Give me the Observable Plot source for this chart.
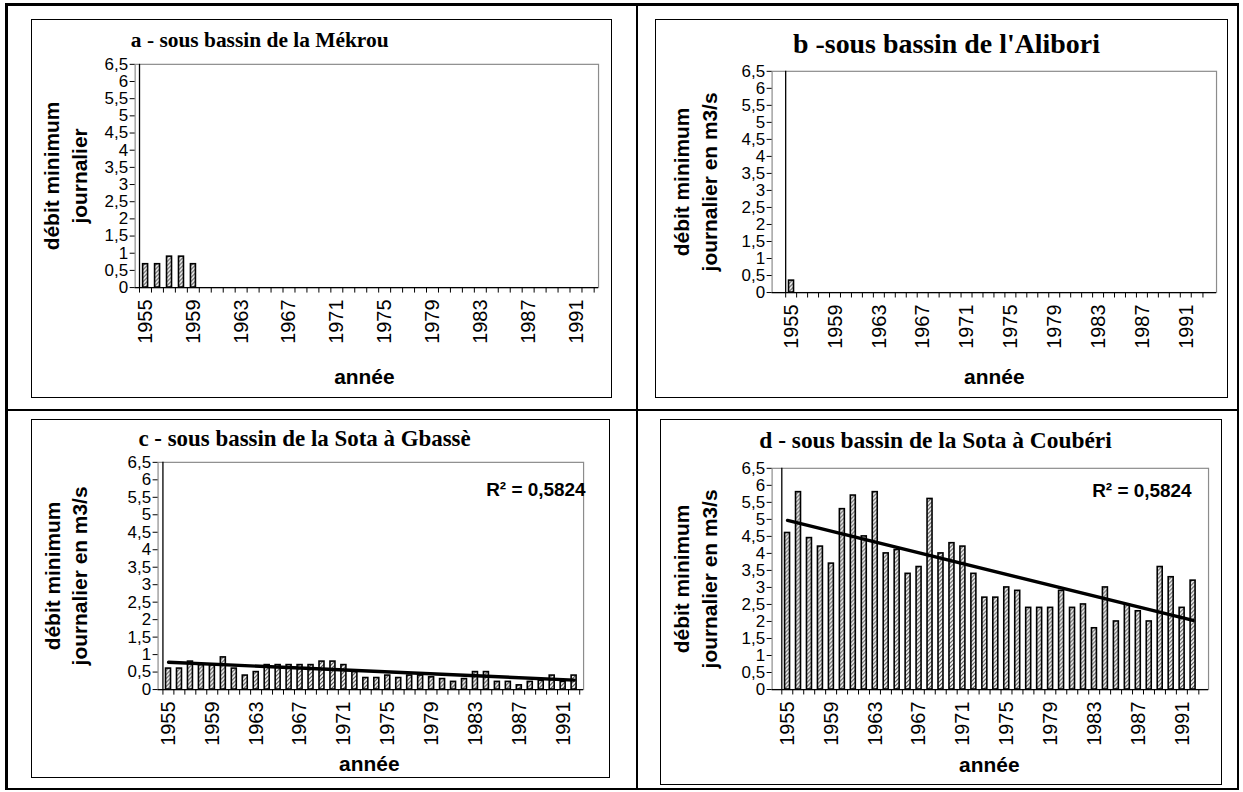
<!DOCTYPE html>
<html>
<head>
<meta charset="utf-8">
<script src="https://cdn.jsdelivr.net/npm/d3@7"></script>
<script src="https://cdn.jsdelivr.net/npm/@observablehq/plot@0.6"></script>
<style>
  html, body { margin: 0; padding: 0; background: #fff; }
  #page { position: relative; width: 1243px; height: 792px; overflow: hidden; background: #fff; }
  .line { position: absolute; background: #000; }
  .panel { position: absolute; box-sizing: border-box; border: 1px solid #000; background: #fff; }
  .panel svg { position: absolute; left: -1px; top: -1px; overflow: visible; }
</style>
</head>
<body>
<div id="page">
  <svg width="0" height="0" style="position:absolute">
    <defs>
      <pattern id="hatch" patternUnits="userSpaceOnUse" width="4" height="4">
        <rect width="4" height="4" fill="#fff"></rect>
        <path d="M0,4 L4,0 M-1,1 L1,-1 M3,5 L5,3" stroke="#4a4a4a" stroke-width="1.2"></path>
      </pattern>
    </defs>
  </svg>
</div>
<script>
// ---------- data ----------
const years = [1955,1956,1957,1958,1959,1960,1961,1962,1963,1964,1965,1966,1967,1968,1969,1970,1971,1972,1973,1974,1975,1976,1977,1978,1979,1980,1981,1982,1983,1984,1985,1986,1987,1988,1989,1990,1991,1992];
const yearLabels = [1955,1959,1963,1967,1971,1975,1979,1983,1987,1991];
const yTicks = [0,0.5,1,1.5,2,2.5,3,3.5,4,4.5,5,5.5,6,6.5];

const mekrouYears = [1955,1956,1957,1958,1959];
const mekrouValues = [0.68,0.68,0.9,0.9,0.68];

const aliboriYears = [1955];
const aliboriValues = [0.35];

const gbasseValues = [0.6,0.6,0.8,0.7,0.7,0.92,0.6,0.4,0.5,0.7,0.7,0.7,0.7,0.7,0.8,0.8,0.7,0.5,0.33,0.33,0.4,0.33,0.4,0.4,0.35,0.3,0.22,0.3,0.5,0.5,0.22,0.22,0.12,0.22,0.25,0.4,0.22,0.4];
const gbasseTrend = [0.78, 0.27];   // trend line at 1955 and 1992

const couberiValues = [4.6,5.8,4.45,4.2,3.7,5.3,5.7,4.5,5.8,4.0,4.1,3.4,3.6,5.6,4.0,4.3,4.2,3.4,2.7,2.7,3.0,2.9,2.4,2.4,2.4,2.9,2.4,2.5,1.8,3.0,2.0,2.5,2.3,2.0,3.6,3.3,2.4,3.2];
const couberiTrend = [4.97, 2.03];

const titles = ["a - sous bassin de la Mékrou", "b -sous bassin de l'Alibori", "c - sous bassin de la Sota à Gbassè", "d - sous bassin de la Sota à Coubéri"];
const yLabels = ["débit minimum\njournalier", "débit minimum\njournalier en m3/s", "débit minimum\njournalier en m3/s", "débit minimum\njournalier en m3/s"];
const xLabel = "année";
const r2Label = "R² = 0,5824";

// ---------- layout ----------
const page = document.getElementById("page");
function addLine(l, t, w, h) {
  const d = document.createElement("div");
  d.className = "line";
  Object.assign(d.style, {left: l + "px", top: t + "px", width: w + "px", height: h + "px"});
  page.appendChild(d);
}
// table borders
addLine(5, 3, 1234, 2.5);
addLine(5, 3, 2.5, 787);
addLine(1236.5, 3, 2.5, 787);
addLine(5, 787.5, 1234, 2.5);
addLine(635.5, 3, 2.5, 787);
addLine(5, 408.5, 1234, 2.5);

const panels = [
  {frame: [31, 19, 612, 398], plot: [135, 64, 600, 288], title: titles[0], titleSize: 21.5, titlePos: [260, 40],
   yLabel: yLabels[0], yLabelPos: [64, 176], xLabelPos: [365, 378],
   bars: mekrouYears.map((y, i) => ({year: y, value: mekrouValues[i]}))},
  {frame: [655, 19, 1228, 398], plot: [772, 71, 1218, 293], title: titles[1], titleSize: 28, titlePos: [947, 44],
   yLabel: yLabels[1], yLabelPos: [694, 182], xLabelPos: [995, 378],
   bars: aliboriYears.map((y, i) => ({year: y, value: aliboriValues[i]}))},
  {frame: [31, 419, 610, 778], plot: [158, 462, 585, 690], title: titles[2], titleSize: 23, titlePos: [305, 438],
   yLabel: yLabels[2], yLabelPos: [64, 576], xLabelPos: [370, 765], r2Pos: [587, 490],
   bars: years.map((y, i) => ({year: y, value: gbasseValues[i]})),
   trend: [{year: years[0], value: gbasseTrend[0]}, {year: years[years.length - 1], value: gbasseTrend[1]}]},
  {frame: [660, 419, 1222, 785], plot: [772, 468, 1210, 690], title: titles[3], titleSize: 23.5, titlePos: [936, 440],
   yLabel: yLabels[3], yLabelPos: [694, 579], xLabelPos: [990, 766], r2Pos: [1193, 491],
   bars: years.map((y, i) => ({year: y, value: couberiValues[i]})),
   trend: [{year: years[0], value: couberiTrend[0]}, {year: years[years.length - 1], value: couberiTrend[1]}]}
];

const fmt = d => String(d).replace(".", ",");
const yearFmt = d => String(d);

for (const p of panels) {
  const [fl, ft, fr, fb] = p.frame;
  const [pl, pt, pr, pb] = p.plot;
  const W = fr - fl, H = fb - ft;
  const step = (pr - pl) / years.length;
  const at = (x, y) => ({frameAnchor: "top-left", dx: x - pl, dy: y - pt});

  const marks = [
    Plot.frame({stroke: "#8c8c8c", strokeWidth: 1.2}),
    Plot.barY(p.bars, {x: "year", y: "value", fill: "url(#hatch)", stroke: "#000", strokeWidth: 1.6}),
    Plot.ruleY([0], {stroke: "#000", strokeWidth: 1.3}),
    Plot.ruleX([years[0]], {stroke: "#000", strokeWidth: 1.3, dx: -step / 2}),
    Plot.ruleX(years, {y1: 0, y2: -0.16, stroke: "#000", strokeWidth: 1, dx: -step / 2}),
    Plot.ruleX([years[years.length - 1]], {y1: 0, y2: -0.16, stroke: "#000", strokeWidth: 1, dx: step / 2}),
    Plot.axisY({ticks: yTicks, tickFormat: fmt, tickSize: 5, tickPadding: 2, fontSize: 17, label: null}),
    Plot.axisX({ticks: yearLabels, tickFormat: yearFmt, tickSize: 0, tickPadding: 12, tickRotate: -90, fontSize: 20, label: null}),
    Plot.text([p.title], {...at(p.titlePos[0], p.titlePos[1]), fontFamily: "'Liberation Serif', 'Times New Roman', serif",
      fontWeight: "bold", fontSize: p.titleSize, textAnchor: "middle", lineAnchor: "middle", fill: "#000"}),
    Plot.text([p.yLabel], {...at(p.yLabelPos[0], p.yLabelPos[1]), rotate: -90, fontWeight: "bold", fontSize: 21,
      lineHeight: 1.3, textAnchor: "middle", lineAnchor: "middle", fill: "#000"}),
    Plot.text([xLabel], {...at(p.xLabelPos[0], p.xLabelPos[1]), fontWeight: "bold", fontSize: 21,
      textAnchor: "middle", lineAnchor: "middle", fill: "#000"})
  ];
  if (p.trend) {
    marks.push(Plot.line(p.trend, {x: "year", y: "value", stroke: "#000", strokeWidth: 3.4}));
    marks.push(Plot.text([r2Label], {...at(p.r2Pos[0], p.r2Pos[1]), fontWeight: "bold", fontSize: 19,
      textAnchor: "end", lineAnchor: "middle", fill: "#000"}));
  }

  const chart = Plot.plot({
    width: W, height: H,
    marginLeft: pl - fl, marginRight: fr - pr, marginTop: pt - ft, marginBottom: fb - pb,
    x: {type: "band", domain: years, paddingInner: 0.55, paddingOuter: 0.275, axis: null},
    y: {domain: [0, 6.5], axis: null},
    style: {fontFamily: "'Liberation Sans', Arial, sans-serif", fontSize: "19px", color: "#000", background: "transparent", overflow: "visible"},
    marks
  });
  const box = document.createElement("div");
  box.className = "panel";
  Object.assign(box.style, {left: fl + "px", top: ft + "px", width: W + "px", height: H + "px"});
  box.appendChild(chart);
  page.appendChild(box);
}
</script>
</body>
</html>
